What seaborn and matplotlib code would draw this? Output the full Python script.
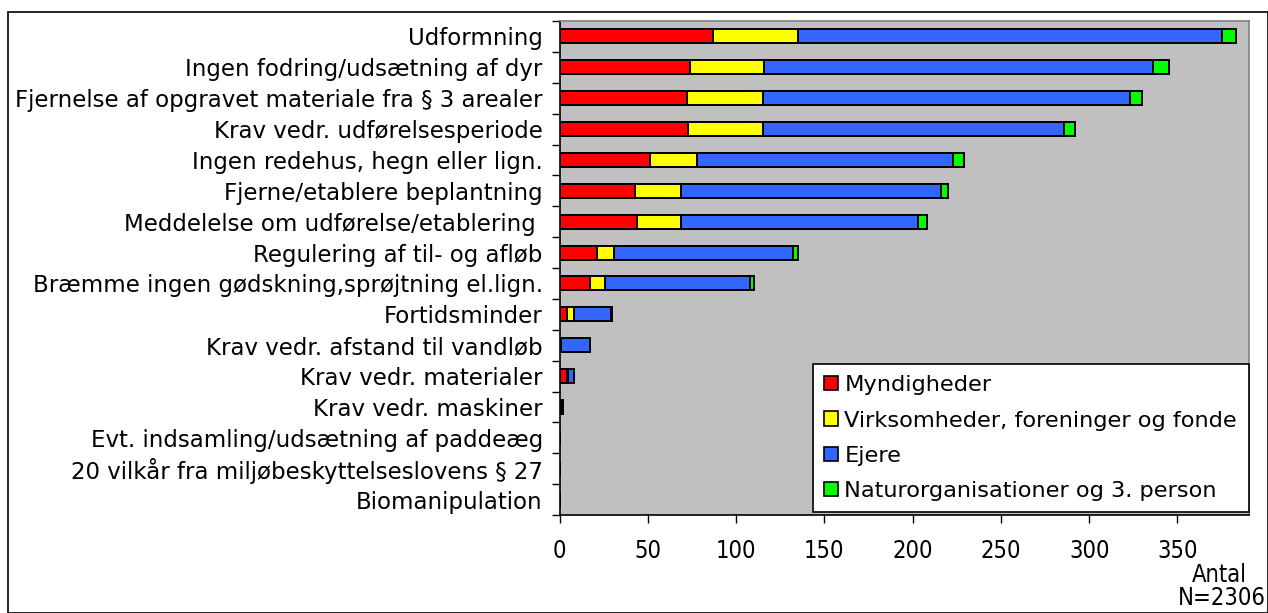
import matplotlib
matplotlib.use("Agg")
import matplotlib.pyplot as plt
import seaborn as sns
import numpy as np
from matplotlib.patches import Patch, Rectangle

categories = [
    "Udformning",
    "Ingen fodring/udsætning af dyr",
    "Fjernelse af opgravet materiale fra § 3 arealer",
    "Krav vedr. udførelsesperiode",
    "Ingen redehus, hegn eller lign.",
    "Fjerne/etablere beplantning",
    "Meddelelse om udførelse/etablering ",
    "Regulering af til- og afløb",
    "Bræmme ingen gødskning,sprøjtning el.lign.",
    "Fortidsminder",
    "Krav vedr. afstand til vandløb",
    "Krav vedr. materialer",
    "Krav vedr. maskiner",
    "Evt. indsamling/udsætning af paddeæg",
    "20 vilkår fra miljøbeskyttelseslovens § 27",
    "Biomanipulation",
]
myndigheder = [87, 74, 72, 73, 51, 43, 44, 21, 17, 4, 1, 4, 1, 0, 0, 0]
virksomheder = [48, 42, 43, 42, 27, 26, 25, 10, 9, 4, 0, 1, 0, 0, 0, 0]
ejere = [240, 220, 208, 171, 145, 147, 134, 101, 82, 21, 16, 3, 1, 0, 0, 0]
natur = [8, 9, 7, 6, 6, 4, 5, 3, 2, 1, 0, 0, 0, 0, 0, 0]
series_names = ["Myndigheder", "Virksomheder, foreninger og fonde",
                "Ejere", "Naturorganisationer og 3. person"]
colors = ["#FF0000", "#FFFF00", "#3366FF", "#00FF00"]
x_ticks = [0, 50, 100, 150, 200, 250, 300, 350]

sns.set_theme(style="white")
plt.rcParams["font.family"] = ["DejaVu Sans"]
plt.rcParams["text.color"] = "black"

W, H = 1268, 613
fig = plt.figure(figsize=(W / 100, H / 100), dpi=100)
fig.patch.set_facecolor("white")

L, R, T, B = 559.5, 1249, 21, 515
ax = fig.add_axes([L / W, 1 - B / H, (R - L) / W, (B - T) / H])
ax.set_facecolor("#C0C0C0")

series = [myndigheder, virksomheder, ejere, natur]
cum = np.cumsum(np.array(series, dtype=float), axis=0)
for i in reversed(range(4)):
    sns.barplot(x=cum[i], y=categories, orient="h", color=colors[i],
                saturation=1, edgecolor="black", linewidth=1.4,
                width=0.45, errorbar=None, ax=ax)

ax.set_xlim(0, 390.5)
ax.set_ylim(len(categories) - 0.5, -0.5)
ax.set_xlabel("")
ax.set_ylabel("")

num_font = dict(family="DejaVu Sans", stretch="condensed", fontsize=17,
                color="black")

ax.set_xticks(x_ticks)
ax.set_xticklabels([str(v) for v in x_ticks], **num_font)
ax.tick_params(axis="x", direction="out", length=6, width=1, color="black",
               bottom=True, pad=11)
ax.set_yticks(range(len(categories)))
ax.set_yticklabels(categories, fontsize=16.5, color="black")
ax.tick_params(axis="y", length=0, pad=12, left=True)
ax.set_yticks(np.arange(-0.5, len(categories), 1.0), minor=True)
ax.tick_params(axis="y", which="minor", direction="out", length=6, width=1,
               color="black", left=True)

for s in ["left", "bottom"]:
    ax.spines[s].set_color("black")
    ax.spines[s].set_linewidth(1.2)
for s in ["top", "right"]:
    ax.spines[s].set_color("#808080")
    ax.spines[s].set_linewidth(1.2)
ax.grid(False)

handles = [Patch(facecolor=c, edgecolor="black", linewidth=1.2) for c in colors]
leg = fig.legend(handles, series_names, loc="upper left",
                 bbox_to_anchor=(813 / W, 1 - 364 / H), borderaxespad=0,
                 frameon=True, fancybox=False, edgecolor="black",
                 facecolor="white", framealpha=1, fontsize=16.2,
                 handlelength=0.6, handleheight=0.6, handletextpad=0.3,
                 labelspacing=0.68, borderpad=0.5)
leg.get_frame().set_linewidth(1.2)
for t in leg.get_texts():
    t.set_color("black")

fig.text(1247 / W, 1 - 575 / H, "Antal", ha="right", va="center", **num_font)
fig.text(1266 / W, 1 - 598 / H, "N=2306", ha="right", va="center", **num_font)

fig.patches.append(Rectangle((8 / W, 0.5 / H), (W - 8.5) / W, (H - 12.5) / H,
                             transform=fig.transFigure, fill=False,
                             edgecolor="black", linewidth=1.2))

fig.savefig("out.png", dpi=100, facecolor="white")
